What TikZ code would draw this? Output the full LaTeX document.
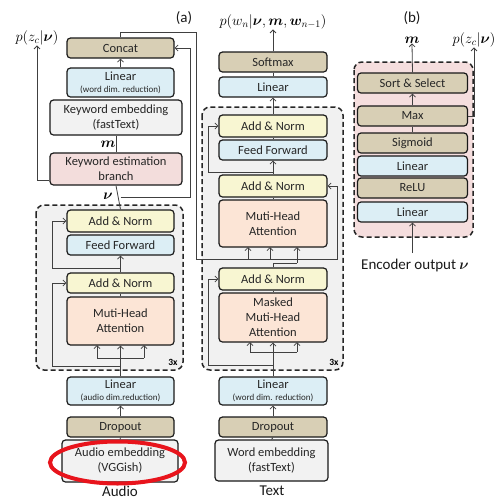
\documentclass[tikz,border=0pt]{standalone}
\usepackage{fontspec}
\setmainfont{Carlito}
\usepackage{bm}
\usetikzlibrary{arrows.meta}
\definecolor{tanc}{HTML}{D8CFB5}
\definecolor{bluec}{HTML}{DCEEF5}
\definecolor{yelc}{HTML}{F8F6D2}
\definecolor{peachc}{HTML}{FCE5D6}
\definecolor{pinkc}{HTML}{F3DDDC}
\definecolor{embc}{HTML}{F2F2F2}
\definecolor{regc}{HTML}{F1F1F1}
\definecolor{panelc}{HTML}{F5DEDE}
\definecolor{redc}{HTML}{E8141C}
\begin{document}
\begin{tikzpicture}[x=1pt,y=-1pt,
  box/.style={draw=black!90, line width=1.2pt, rounded corners=3.5pt, inner sep=0pt,
    font=\fontsize{12.5}{15}\selectfont, align=center, text=black!85},
  tanbox/.style={box, fill=tanc},
  bluebox/.style={box, fill=bluec},
  yelbox/.style={box, fill=yelc},
  peachbox/.style={box, fill=peachc},
  pinkbox/.style={box, fill=pinkc},
  embbox/.style={box, fill=embc},
  region/.style={draw=black!85, line width=1.5pt, dash pattern=on 5pt off 3pt, rounded corners=8pt},
  ln/.style={draw=black!75, line width=0.8pt},
  arr/.style={ln, -{Straight Barb[length=3pt,width=6pt]}},
  small/.style={font=\fontsize{9}{10}\selectfont},
  lbl/.style={inner sep=0pt, font=\fontsize{15}{17}\selectfont, text=black!90},
  mlbl/.style={inner sep=0pt, font=\fontsize{14}{16}\selectfont},
  rep/.style={inner sep=0pt, font=\fontsize{9.5}{10}\selectfont\bfseries}
]
\useasboundingbox (0,0) rectangle (499,499);

% ---------- regions ----------
\draw[region, fill=regc] (36,205) rectangle (183,370);
\draw[region, fill=regc] (202,107) rectangle (343,370);
\draw[region, fill=panelc] (354,62) rectangle (473,237);
\node[rep] (rep1) at (173,362) {3x};
\node[rep] (rep2) at (334,362) {3x};

% ---------- encoder column ----------
\node[tanbox, minimum width=107, minimum height=20] (concat) at (120.5,48) {Concat};
\node[bluebox, minimum width=107, minimum height=29] (linK) at (120.5,82.5) {Linear\\[-3pt]{\small\fontsize{9}{10}\selectfont(word dim. reduction)}};
\node[embbox, minimum width=132, minimum height=35] (kwemb) at (116,117.5) {Keyword embedding\\(fastText)};
\node[pinkbox, minimum width=132, minimum height=32] (kwbr) at (116,169) {Keyword estimation\\branch};
\node[mlbl] (mlab) at (108,144) {$\bm{m}$};
\node[mlbl] (nulab) at (108,196) {$\bm{\nu}$};
\node[mlbl] (pz1) at (37,38) {$p(z_c|\bm{\nu})$};

\node[yelbox, minimum width=107, minimum height=22] (an1) at (120.5,221) {Add \& Norm};
\node[bluebox, minimum width=107, minimum height=20] (ff1) at (120.5,245) {Feed Forward};
\node[yelbox, minimum width=107, minimum height=20] (an2) at (120.5,283) {Add \& Norm};
\node[peachbox, minimum width=107, minimum height=48] (mha1) at (120.5,321) {Muti-Head\\Attention};
\node[bluebox, minimum width=107, minimum height=28] (linA) at (120.5,391) {Linear\\[-3pt]{\fontsize{9}{10}\selectfont(audio dim.reduction)}};
\node[tanbox, minimum width=107, minimum height=20] (dropA) at (120.5,427) {Dropout};
\node[embbox, minimum width=116, minimum height=42] (audemb) at (120,461) {Audio embedding\\(VGGish)};
\node[lbl] (audio) at (120,491) {Audio};
\draw[redc, line width=4pt] (117.5,462.5) ellipse [x radius=67.5, y radius=21];

% ---------- decoder column ----------
\node[mlbl] (pw) at (273,22) {$p(w_n|\bm{\nu},\bm{m},\bm{w}_{n-1})$};
\node[tanbox, minimum width=108, minimum height=20] (soft) at (273,62) {Softmax};
\node[bluebox, minimum width=108, minimum height=20] (linD) at (273,87) {Linear};
\node[yelbox, minimum width=108, minimum height=22] (an3) at (273,126) {Add \& Norm};
\node[bluebox, minimum width=108, minimum height=20] (ff2) at (273,150) {Feed Forward};
\node[yelbox, minimum width=108, minimum height=22] (an4) at (273,186) {Add \& Norm};
\node[peachbox, minimum width=108, minimum height=47] (mha2) at (273,223.5) {Muti-Head\\Attention};
\node[yelbox, minimum width=108, minimum height=22] (an5) at (273,279) {Add \& Norm};
\node[peachbox, minimum width=108, minimum height=49] (mmha) at (273,317.5) {Masked\\Muti-Head\\Attention};
\node[bluebox, minimum width=108, minimum height=28] (linW) at (273,391) {Linear\\[-3pt]{\fontsize{9}{10}\selectfont(word dim. reduction)}};
\node[tanbox, minimum width=108, minimum height=20] (dropW) at (273,427) {Dropout};
\node[embbox, minimum width=113, minimum height=41] (wemb) at (271.5,460.5) {Word embedding\\(fastText)};
\node[lbl] (text) at (272,491) {Text};

% ---------- panel (b) ----------
\node[lbl] (pa) at (184,18) {(a)};
\node[lbl] (pb) at (412,18) {(b)};
\node[mlbl] (mb) at (412,40) {$\bm{m}$};
\node[mlbl] (pz2) at (474,40) {$p(z_c|\bm{\nu})$};
\node[tanbox, minimum width=110, minimum height=20] (ss) at (412.5,83) {Sort \& Select};
\node[tanbox, minimum width=110, minimum height=20] (mx) at (412.5,116) {Max};
\node[tanbox, minimum width=110, minimum height=20] (sig) at (412.5,143) {Sigmoid};
\node[bluebox, minimum width=110, minimum height=20] (lb1) at (412.5,166) {Linear};
\node[tanbox, minimum width=110, minimum height=20] (relu) at (412.5,188) {ReLU};
\node[bluebox, minimum width=110, minimum height=20] (lb2) at (412.5,212) {Linear};
\node[lbl, anchor=center] (encout) at (415,265) {Encoder output $\bm{\nu}$};

% ---------- encoder connectors ----------
\draw[ln] (audemb.north) -- (dropA.south);
\draw[arr] (dropA.north) -- (linA.south);
\draw[ln] (linA.north) -- (120.5,358);
\draw[ln] (97,358) -- (144,358);
\draw[arr] (97,358) -- (97,345);
\draw[arr] (120.5,358) -- (mha1.south);
\draw[arr] (144,358) -- (144,345);
\draw[arr] (120.5,366) -- (52,366) |- (an2.west);
\draw[ln] (mha1.north) -- (an2.south);
\draw[arr] (an2.north) -- (ff1.south);
\draw[arr] (120.5,268) -- (52,268) |- (an1.west);
\draw[ln] (an1.north) -- (kwbr.south);
\draw[arr] (120.5,197) -- (190,197) |- (concat.east);
\draw[ln] (kwbr.north) -- (kwemb.south);
\draw[arr] (linK.north) -- (concat.south);
\draw[arr] (kwbr.west |- 0,180) -| (pz1.south);

% concat output to decoder cross-attention
\draw[ln] (concat.north) -- (120.5,32) -- (196,32) -- (196,259) -- (337,259) -- (337,186);
\draw[arr] (337,186) -- (an4.east);
\draw[arr] (248,259) -- (248,247);
\draw[arr] (270,259) -- (270,247);

% ---------- decoder connectors ----------
\draw[ln] (wemb.north) -- (dropW.south);
\draw[arr] (dropW.north) -- (linW.south);
\draw[ln] (linW.north) -- (273,352);
\draw[ln] (250,352) -- (297,352);
\draw[arr] (250,352) -- (250,342);
\draw[arr] (273,352) -- (mmha.south);
\draw[arr] (297,352) -- (297,342);
\draw[arr] (273,365) -- (208,365) |- (an5.west);
\draw[ln] (mmha.north) -- (an5.south);
\draw[ln] (an5.north) -- (273,263) -- (297,263);
\draw[arr] (297,263) -- (297,247);
\draw[ln] (mha2.north) -- (an4.south);
\draw[arr] (an4.north) -- (ff2.south);
\draw[arr] (273,172) -- (208,172) |- (an3.west);
\draw[ln] (ff2.north) -- (an3.south);
\draw[arr] (an3.north) -- (linD.south);
\draw[ln] (linD.north) -- (soft.south);
\draw[arr] (soft.north) -- (pw.south);

% ---------- panel (b) connectors ----------
\draw[arr] (412.5,253) -- (lb2.south);
\draw[ln] (sig.north) -- (mx.south);
\draw[arr] (mx.north) -- (ss.south);
\draw[arr] (ss.north) -- (mb.south);
\draw[arr] (mx.east) -| (pz2.south);
\end{tikzpicture}
\end{document}
